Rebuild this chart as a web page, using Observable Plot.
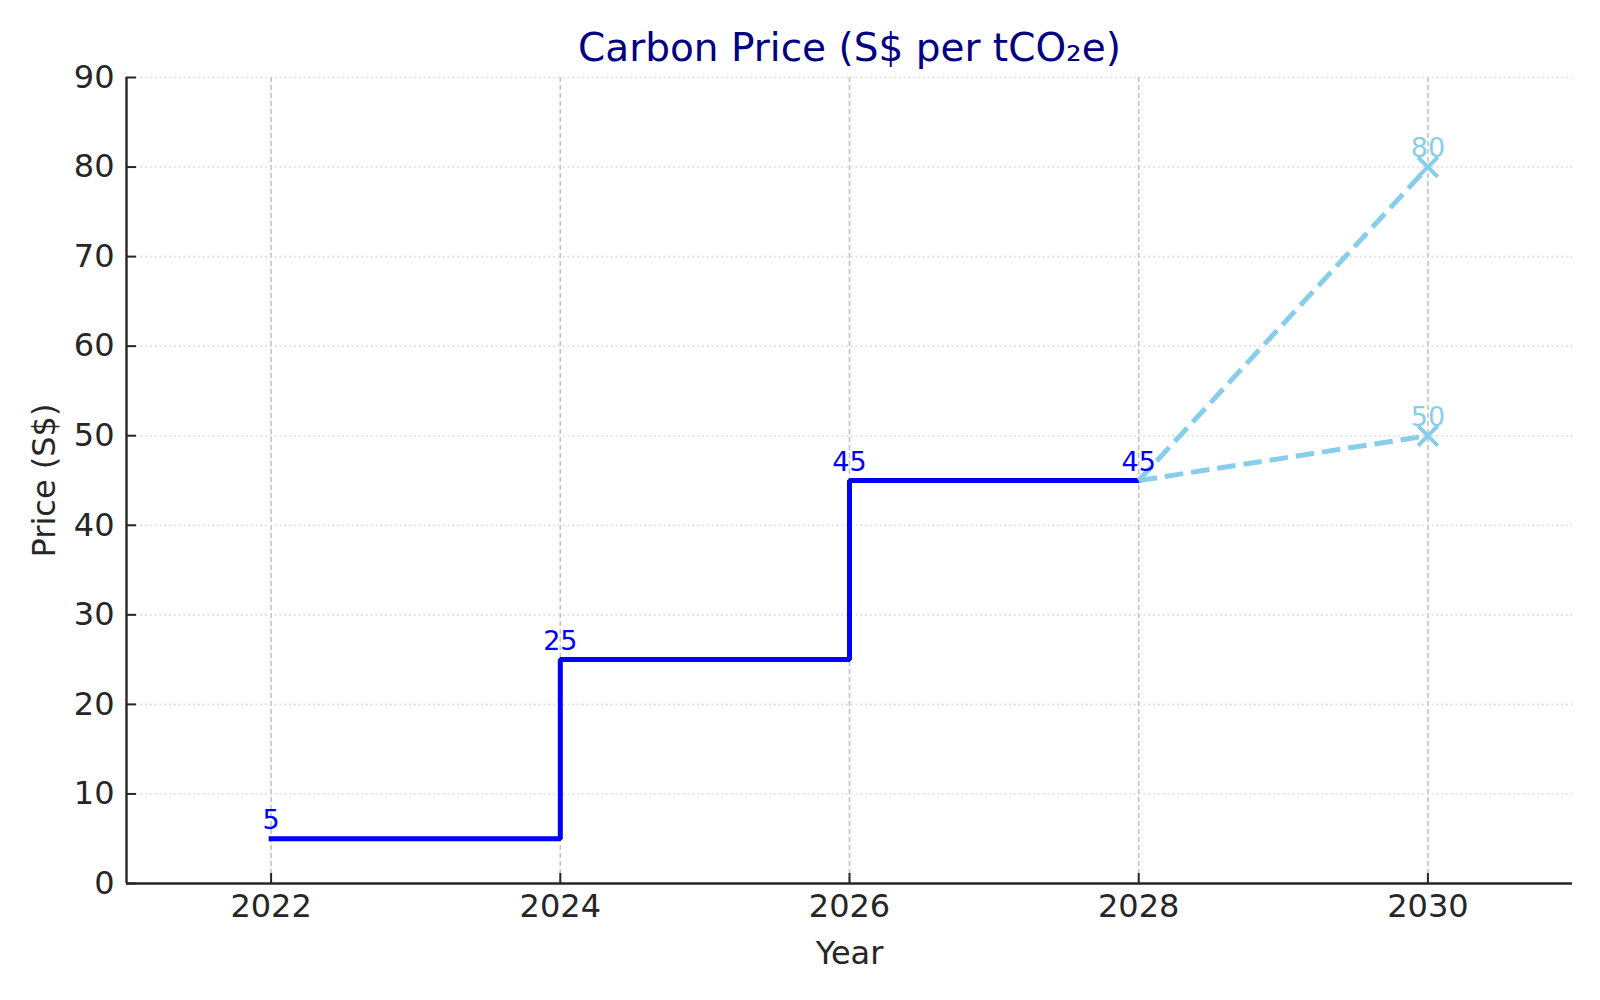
<!DOCTYPE html>
<html>
<head>
<meta charset="utf-8">
<script src="https://cdn.jsdelivr.net/npm/d3@7"></script>
<script src="https://cdn.jsdelivr.net/npm/@observablehq/plot@0.6"></script>
<style>
  html, body { margin: 0; padding: 0; background: #fff; }
  #chart svg { display: block; font-family: "DejaVu Sans", sans-serif; }
</style>
</head>
<body>
<div id="chart"></div>
<script>
// ---- data ----
const years = [2022, 2024, 2026, 2028];
const prices = [5, 25, 45, 45];
const projYears = [2030, 2030];
const projPrices = [80, 50];
const projStartYear = 2028;
const projStartPrice = 45;
const xTicks = [2022, 2024, 2026, 2028, 2030];
const yTicks = [0, 10, 20, 30, 40, 50, 60, 70, 80, 90];
const titleText = "Carbon Price (S$ per tCO\u2082e)";
const xLabel = "Year";
const yLabel = "Price (S$)";

// tables built from the arrays
const actual = years.map((y, i) => ({year: y, price: prices[i]}));
const projections = projYears.flatMap((y, i) => [
  {path: i, year: projStartYear, price: projStartPrice},
  {path: i, year: y, price: projPrices[i]}
]);
const projEnds = projYears.map((y, i) => ({year: y, price: projPrices[i]}));

const axisColor = "#262626";
const blue = "#0000ff";
const sky = "#87ceeb";

const chart = Plot.plot({
  width: 1600,
  height: 1000,
  marginLeft: 126,
  marginRight: 28,
  marginTop: 77,
  marginBottom: 117,
  style: {fontFamily: "DejaVu Sans, sans-serif", background: "#fff"},
  x: {domain: [2021, 2031], label: null},
  y: {domain: [0, 90], label: null},
  marks: [
    Plot.gridX(xTicks, {stroke: "#c4c4c4", strokeOpacity: 1, strokeWidth: 1.6, strokeDasharray: "5,3"}),
    Plot.gridY(yTicks.filter(d => d > 0), {stroke: "#d8d8d8", strokeOpacity: 1, strokeWidth: 1.6, strokeDasharray: "1.6,3.2"}),
    Plot.line(actual, {x: "year", y: "price", curve: "step-after", stroke: blue, strokeWidth: 5, strokeLinecap: "square", strokeLinejoin: "miter"}),
    Plot.line(projections, {x: "year", y: "price", z: "path", stroke: sky, strokeWidth: 5, strokeDasharray: "18.5,8", strokeLinecap: "butt"}),
    Plot.dot(projEnds, {x: "year", y: "price", symbol: "times", r: 9, stroke: sky, strokeWidth: 4}),
    Plot.text(actual, {x: "year", y: "price", text: d => String(d.price), fill: blue, fontSize: 27, lineAnchor: "bottom", dy: -10}),
    Plot.text(projEnds, {x: "year", y: "price", text: d => String(d.price), fill: sky, fontSize: 27, lineAnchor: "bottom", dy: -10}),
    Plot.axisX(xTicks, {tickSize: -10, tickPadding: 21, tickFormat: d => String(d), fontSize: 32, color: axisColor, stroke: axisColor, strokeWidth: 2, label: null}),
    Plot.axisY(yTicks, {tickSize: -10, tickPadding: 22, fontSize: 32, color: axisColor, stroke: axisColor, strokeWidth: 2, label: null}),
    Plot.ruleY([0], {stroke: axisColor, strokeWidth: 2.4}),
    Plot.ruleX([2021], {stroke: axisColor, strokeWidth: 2.4}),
    Plot.text([xLabel], {frameAnchor: "bottom", lineAnchor: "bottom", dy: 80, fontSize: 32, fill: axisColor}),
    Plot.text([yLabel], {frameAnchor: "left", textAnchor: "middle", lineAnchor: "middle", rotate: -90, dx: -82, fontSize: 32, fill: axisColor}),
    Plot.text([titleText], {frameAnchor: "top", lineAnchor: "bottom", dy: -17, fontSize: 39, fill: "#000080"})
  ]
});
document.getElementById("chart").appendChild(chart);
</script>
</body>
</html>
